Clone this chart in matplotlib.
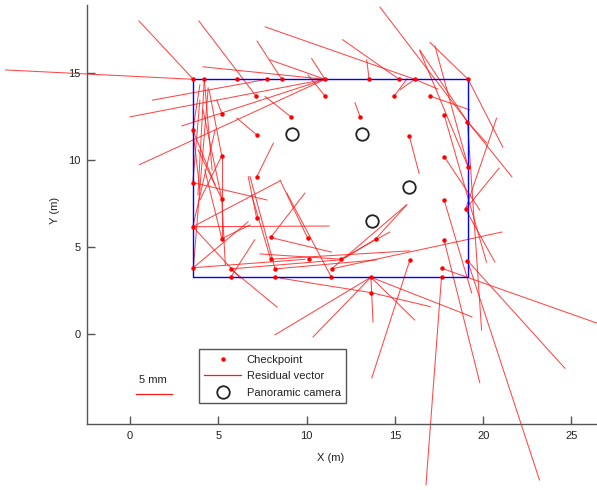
import matplotlib
matplotlib.use("Agg")
import matplotlib.pyplot as plt
from matplotlib.lines import Line2D

plt.rcParams['font.family'] = ['Liberation Sans', 'DejaVu Sans']

# checkpoint positions (m)
cp_x = [3.58, 4.20, 6.07, 7.74, 8.59, 11.04, 13.54, 15.24, 16.13, 19.15,
        7.13, 11.04, 14.96, 16.98, 5.19, 9.09, 13.02, 17.79, 19.11, 3.55,
        7.17, 15.81, 5.19, 17.79, 7.17, 19.15, 3.55, 5.19, 17.79, 19.00,
        7.17, 3.55, 5.19, 7.96, 10.05, 13.91, 17.79, 7.96, 10.15, 11.94,
        15.85, 19.11, 3.58, 5.70, 8.21, 11.41, 17.64, 5.70, 8.21, 11.40,
        13.64, 17.64, 13.67]
cp_y = [14.65, 14.65, 14.65, 14.65, 14.65, 14.65, 14.65, 14.65, 14.65, 14.65,
        13.69, 13.69, 13.69, 13.69, 12.68, 12.50, 12.50, 12.60, 12.21, 11.73,
        11.45, 11.39, 10.24, 10.20, 9.03, 9.60, 8.70, 7.76, 7.70, 7.17,
        6.64, 6.16, 5.48, 5.54, 5.51, 5.46, 5.37, 4.29, 4.29, 4.29,
        4.25, 4.21, 3.80, 3.73, 3.73, 3.73, 3.77, 3.25, 3.25, 3.25,
        3.25, 3.25, 2.36]

# residual vectors: checkpoint index and residual (mm)
res_cp = [0, 0, 10, 4, 8, 8, 5, 3, 5, 5, 5, 5, 5, 7, 6, 18, 25, 9, 9, 25,
          13, 12, 8, 18, 29, 29, 23, 21, 16, 17, 28, 29, 45, 36, 41, 41, 46, 51, 40, 50,
          50, 50, 50, 50, 52, 52, 18, 43, 45, 35, 49, 33, 39, 42, 42, 42, 31, 31, 26, 32,
          44, 37, 20, 15, 24, 43, 44, 1, 19, 14, 22, 19, 26, 27, 31, 27, 30, 32, 47, 33,
          39, 34, 18, 18, 11, 37, 35, 31, 19, 22, 27, 32, 1]
res_dx = [-26.6, -7.7, -8.1, -3.5, -21.2, 3.25, -17.3, -16.2, -27.6, -20.25, -26.3, -7.8, -1.9, -8.0, -0.35, -12.4, -4.7, -5.4, 4.9, -6.85,
          5.65, 1.8, -2.1, 6.3, 4.4, 4.75, 5.05, 1.4, -0.7, 6.0, 3.9, 4.15, 24.1, 5.05, 10.2, 13.8, 22.0, -2.2, -5.4, 0.3,
          -8.2, -13.6, 6.2, 14.3, 8.3, -12.95, 2.0, 6.55, 10.6, 4.4, -6.3, 4.85, 6.9, 15.8, 7.75, 2.1, 19.3, 12.35, 10.5, 0.0,
          -3.55, -2.7, -2.8, -3.6, 2.35, 15.45, 14.4, -0.9, 1.0, -0.7, -1.8, 1.0, 1.0, -2.65, 3.15, 0.5, -1.2, 4.0, 3.4, 8.6,
          -11.45, -3.9, 2.7, -6.75, -2.4, 19.7, -4.35, 6.7, 3.15, -3.1, -3.35, -2.4, 1.1]
res_dy = [1.35, 8.4, 10.8, 5.5, 7.55, -1.4, 1.8, -3.0, -5.4, -6.7, -12.3, 2.8, 3.0, 5.7, 2.8, 16.5, 17.4, 5.3, -9.75, 16.75,
          -2.0, 2.45, -1.5, -7.95, 13.1, 5.9, -7.7, -5.4, 2.0, -21.2, -13.4, -7.6, 5.3, -20.5, -31.6, -15.5, -7.9, -29.9, -17.0, -6.45,
          -8.6, -8.3, -6.15, -5.7, -2.0, 2.1, -30.0, -5.5, 9.2, 4.9, 12.1, 6.4, 3.9, 1.2, 6.6, 25.9, 0.1, 6.6, -2.5, 11.75,
          13.3, 9.25, 2.4, 2.9, 4.85, 1.3, 1.3, -16.65, 6.5, 1.95, 9.5, -8.6, 11.9, 12.8, 13.9, -9.5, 6.0, 1.95, 5.4, -2.1,
          0.75, 8.35, -3.05, 10.3, 3.0, 1.2, -2.75, -7.4, -7.9, -6.35, 7.05, 9.9, -13.05]

# panoramic camera stations (m)
cam_x = [9.15, 13.16, 15.82, 13.73]
cam_y = [11.48, 11.48, 8.43, 6.48]

# survey area outline (m)
area_x = [3.58, 19.15]
area_y = [3.25, 14.65]

scale = 0.4  # plotted metres per mm of residual
bar_mm = 5

fig = plt.figure(figsize=(5.97, 4.90), dpi=100)
ax = fig.add_axes([0.1462, 0.1341, 0.8538, 0.8557])

red = '#ff1a1a'
for i, dx, dy in zip(res_cp, res_dx, res_dy):
    x0, y0 = cp_x[i], cp_y[i]
    ax.plot([x0, x0 + dx * scale], [y0, y0 + dy * scale], color=red,
            lw=0.75, alpha=0.8, clip_on=False, zorder=2)

ax.plot([area_x[0], area_x[1], area_x[1], area_x[0], area_x[0]],
        [area_y[1], area_y[1], area_y[0], area_y[0], area_y[1]],
        color='#0000ff', lw=1.0, zorder=3)

ax.plot(cp_x, cp_y, ls='none', marker='o', ms=2.2, color='red',
        mec='red', zorder=4)
ax.plot(cam_x, cam_y, ls='none', marker='o', ms=9, mfc='none',
        mec='#222222', mew=1.3, zorder=4)

# scale bar
ax.plot([0.35, 0.35 + bar_mm * scale], [-3.47, -3.47], color=red, lw=0.9)
ax.text(1.3, -2.67, '%d mm' % bar_mm, ha='center', va='center',
        fontsize=8, color='#222222')

ax.set_xlim(-2.43, 26.45)
ax.set_ylim(-5.22, 18.93)
ax.set_xticks([0, 5, 10, 15, 20, 25])
ax.set_yticks([0, 5, 10, 15])
ax.tick_params(direction='in', length=5.5, width=1, colors='#555555',
               labelcolor='#222222', labelsize=8, pad=5)
for s in ['top', 'right']:
    ax.spines[s].set_visible(False)
for s in ['left', 'bottom']:
    ax.spines[s].set_color('#555555')
    ax.spines[s].set_linewidth(1.0)

ax.set_xlabel('X (m)', fontsize=8, color='#222222')
ax.set_ylabel('Y (m)', fontsize=8, color='#222222')
ax.xaxis.set_label_coords(0.478, -0.068)
ax.yaxis.set_label_coords(-0.0536, 0.511)

handles = [
    Line2D([], [], ls='none', marker='o', ms=2.2, color='red'),
    Line2D([], [], color=red, lw=0.9),
    Line2D([], [], ls='none', marker='o', ms=9, mfc='none', mec='#222222', mew=1.3),
]
leg = ax.legend(handles, ['Checkpoint', 'Residual vector', 'Panoramic camera'],
                loc='upper left', bbox_to_anchor=(0.219, 0.1796),
                borderaxespad=0, fontsize=8, fancybox=False, framealpha=1,
                edgecolor='#555555', handlelength=3.3, handletextpad=0.5,
                labelspacing=0.6, borderpad=0.5)
leg.get_frame().set_linewidth(1.0)
for t in leg.get_texts():
    t.set_color('#222222')

fig.savefig('out.png', dpi=100)
